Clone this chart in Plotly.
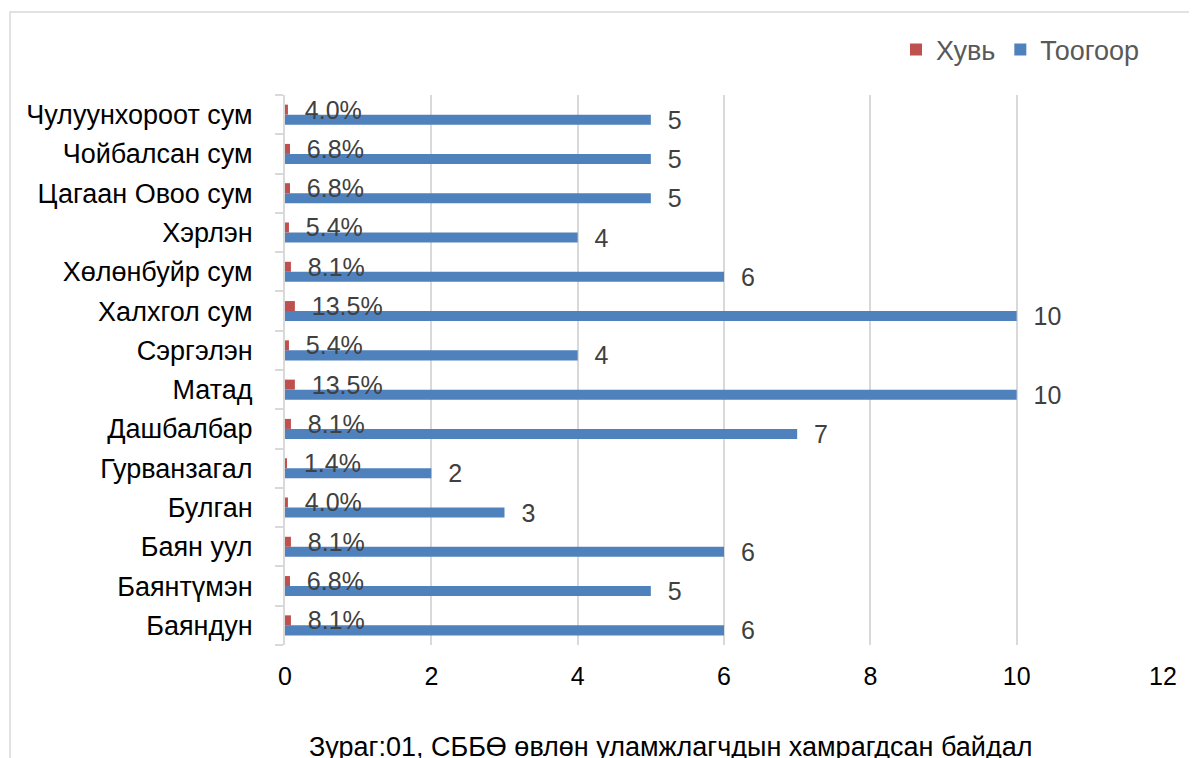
import plotly.graph_objects as go

categories = ["Баяндун", "Баянтүмэн", "Баян уул", "Булган", "Гурванзагал", "Дашбалбар",
              "Матад", "Сэргэлэн", "Халхгол сум", "Хөлөнбуйр сум", "Хэрлэн",
              "Цагаан Овоо сум", "Чойбалсан сум", "Чулуунхороот сум"]
count_values = [6, 5, 6, 3, 2, 7, 10, 4, 10, 6, 4, 5, 5, 5]
share_values = [0.081, 0.068, 0.081, 0.040, 0.014, 0.081, 0.135, 0.054, 0.135, 0.081,
                0.054, 0.068, 0.068, 0.040]
x_ticks = [0, 2, 4, 6, 8, 10, 12]
title_text = "Зураг:01, СББӨ өвлөн уламжлагчдын хамрагдсан байдал"

FONT = "Liberation Sans, Arial, sans-serif"
# page has an 8px body margin; figure coordinates = page coordinates - 8
OFF = 8
W, H = 1197 - OFF, 758 - OFF
L, T = 285 - OFF, 95 - OFF
R = W - (1163 - OFF)
B = H - (645 - OFF)
PW, PH = W - L - R, H - T - B

def px_x(p):
    return (p - OFF - L) / PW

def px_y(p):
    return (H - B - (p - OFF)) / PH

fig = go.Figure()
fig.add_trace(go.Bar(
    name="Тоогоор", y=categories, x=count_values, orientation="h",
    marker=dict(color="#4F81BD", line=dict(width=0)),
    texttemplate="\u00a0\u00a0%{x}", textposition="outside",
    textfont=dict(family=FONT, size=25, color="#404040"),
    constraintext="none", cliponaxis=False,
))
fig.add_trace(go.Bar(
    name="Хувь", y=categories, x=share_values, orientation="h",
    marker=dict(color="#C0504D", line=dict(width=0)),
    texttemplate="\u00a0\u00a0%{x:.1%}", textposition="outside",
    textfont=dict(family=FONT, size=25, color="#404040"),
    constraintext="none", cliponaxis=False,
))

fig.update_layout(
    width=W, height=H,
    margin=dict(l=L, r=R, t=T, b=B, autoexpand=False),
    barmode="group", bargap=0.49, bargroupgap=0,
    paper_bgcolor="white", plot_bgcolor="white",
    font=dict(family=FONT, size=25, color="#000000"),
    showlegend=True,
    legend=dict(orientation="h", traceorder="reversed",
                x=px_x(896), xanchor="left", y=px_y(50), yanchor="middle",
                font=dict(family=FONT, size=27, color="#595959"),
                bgcolor="rgba(0,0,0,0)"),
    xaxis=dict(range=[0, 12], tickvals=x_ticks, ticktext=[str(v) for v in x_ticks],
               showgrid=True, gridcolor="#d9d9d9", gridwidth=2,
               zeroline=False, showline=False, ticks="",
               tickfont=dict(family=FONT, size=25, color="#000000"),
               ticklabelstandoff=14),
    yaxis=dict(type="category", categoryorder="array", categoryarray=categories,
               showline=True, linecolor="#d9d9d9", linewidth=2,
               ticks="outside", tickson="boundaries", ticklen=8, tickcolor="#d9d9d9",
               tickwidth=2, showgrid=False,
               tickfont=dict(family=FONT, size=27, color="#000000"),
               ticklabelstandoff=25),
)

fig.add_shape(type="rect", xref="paper", yref="paper",
              x0=px_x(10), x1=px_x(1260), y0=px_y(820), y1=px_y(12),
              line=dict(color="#d9d9d9", width=1.5), fillcolor="rgba(0,0,0,0)", layer="below")

fig.add_annotation(text=title_text, xref="paper", yref="paper",
                   x=px_x(670), y=px_y(747), xanchor="center", yanchor="middle",
                   showarrow=False, font=dict(family=FONT, size=27, color="#000000"))

fig.write_html("out.html")
